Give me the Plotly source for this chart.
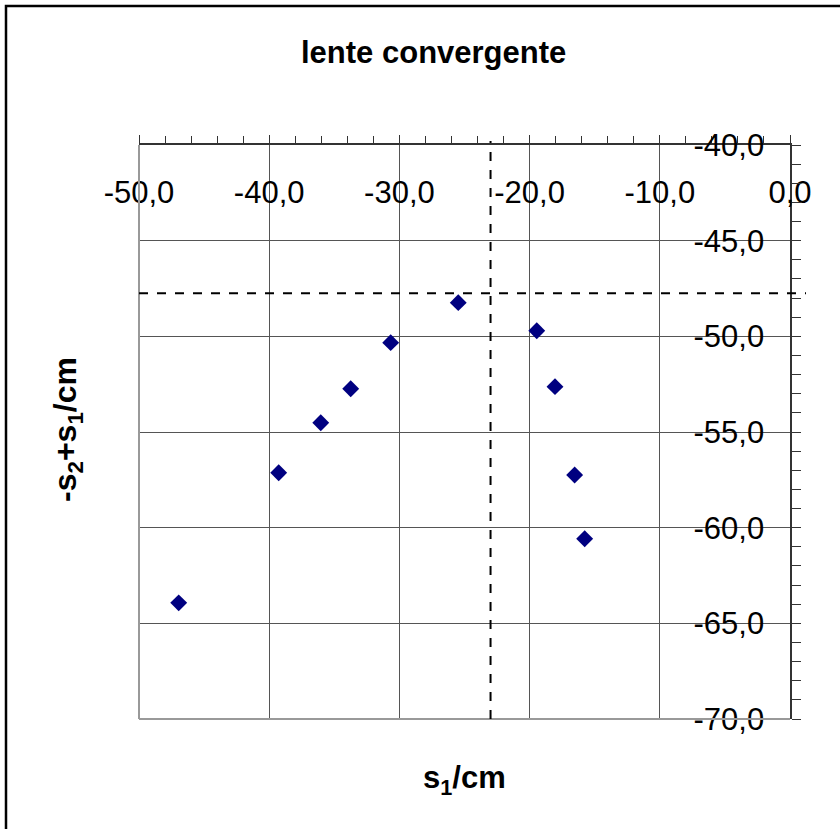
import plotly.graph_objects as go

# data
s1 = [-46.95, -39.27, -36.04, -33.74, -30.67, -25.48, -19.45, -18.05, -16.54, -15.77]
diff = [-63.93, -57.13, -54.52, -52.74, -50.33, -48.24, -49.71, -52.63, -57.25, -60.58]

x_ticks = [-50, -40, -30, -20, -10, 0]
x_ticktext = ["-50,0", "-40,0", "-30,0", "-20,0", "-10,0", "0,0"]
y_ticks = [-40, -45, -50, -55, -60, -65, -70]
y_ticktext = ["-40,0", "-45,0", "-50,0", "-55,0", "-60,0", "-65,0", "-70,0"]

x_dash = -23.0
y_dash = -47.75

X0, X1 = -50, 0
Y0, Y1 = -70, -40

W, H = 840, 829
L, R, T, B = 139, 50, 145, 110
pw, ph = W - L - R, H - T - B

def px2paperx(px):
    return (px - L) / pw

def py2papery(py):
    return (H - B - py) / ph

fig = go.Figure()
fig.add_trace(go.Scatter(
    x=s1, y=diff, mode="markers",
    marker=dict(symbol="diamond", size=13, color="#000080", line=dict(width=0)),
    showlegend=False, cliponaxis=False,
))

font = "Liberation Sans, Arial, sans-serif"

fig.update_layout(
    width=W, height=H,
    margin=dict(l=L, r=R, t=T, b=B),
    paper_bgcolor="white", plot_bgcolor="white",
    font=dict(family=font, color="black"),
    xaxis=dict(
        range=[X0, X1], side="top", tickvals=x_ticks, ticktext=x_ticktext,
        ticklabelposition="inside", ticklabelstandoff=40, ticklabeloverflow="allow",
        ticks="outside", ticklen=8, tickcolor="#333", tickwidth=1,
        showgrid=True, gridcolor="#555", gridwidth=1,
        showline=True, linecolor="#333", linewidth=2,
        zeroline=False, tickfont=dict(size=31, family=font, color="black"),
        minor=dict(dtick=2, ticks="outside", ticklen=7, tickcolor="#333", showgrid=False),
        fixedrange=True,
    ),
    yaxis=dict(
        range=[Y0, Y1], side="right", tickvals=y_ticks, ticktext=y_ticktext,
        ticklabelposition="inside", ticklabelstandoff=29, ticklabeloverflow="allow",
        ticks="outside", ticklen=9, tickcolor="#333", tickwidth=1,
        showgrid=True, gridcolor="#555", gridwidth=1,
        showline=True, linecolor="#333", linewidth=2,
        zeroline=False, tickfont=dict(size=31, family=font, color="black"),
        minor=dict(dtick=1, ticks="outside", ticklen=9, tickcolor="#333", showgrid=False),
        fixedrange=True,
    ),
    shapes=[
        # plot-area left & bottom border (light gray)
        dict(type="line", xref="paper", yref="paper", x0=0, x1=0, y0=0, y1=1,
             line=dict(color="#999", width=2), layer="above"),
        dict(type="line", xref="paper", yref="paper", x0=0, x1=1, y0=0, y1=0,
             line=dict(color="#999", width=2), layer="above"),
        # dashed reference lines
        dict(type="line", xref="x", yref="paper", x0=x_dash, x1=x_dash,
             y0=0, y1=py2papery(141), line=dict(color="black", width=2, dash="dash")),
        dict(type="line", xref="paper", yref="y", x0=0, x1=px2paperx(806),
             y0=y_dash, y1=y_dash, line=dict(color="black", width=2, dash="dash")),
        # outer chart frame
        dict(type="rect", xref="paper", yref="paper",
             x0=px2paperx(6), x1=px2paperx(850), y0=py2papery(850), y1=py2papery(6),
             line=dict(color="black", width=2.5), fillcolor="rgba(0,0,0,0)"),
    ],
    annotations=[
        dict(text="<b>lente convergente</b>", xref="paper", yref="paper",
             x=px2paperx(433), y=py2papery(52), showarrow=False,
             font=dict(size=31, family=font), xanchor="center", yanchor="middle"),
        dict(text="<b>s<sub>1</sub>/cm</b>", xref="paper", yref="paper",
             x=px2paperx(464), y=py2papery(780), showarrow=False,
             font=dict(size=31, family=font), xanchor="center", yanchor="middle"),
        dict(text="<b>-s<sub>2</sub>+s<sub>1</sub>/cm</b>", xref="paper", yref="paper",
             x=px2paperx(67), y=py2papery(430), showarrow=False, textangle=-90,
             font=dict(size=32, family=font), xanchor="center", yanchor="middle"),
    ],
)

fig.write_html("out.html", config={"displayModeBar": False},
               post_script="document.body.style.margin='0';document.body.style.overflow='hidden';")
